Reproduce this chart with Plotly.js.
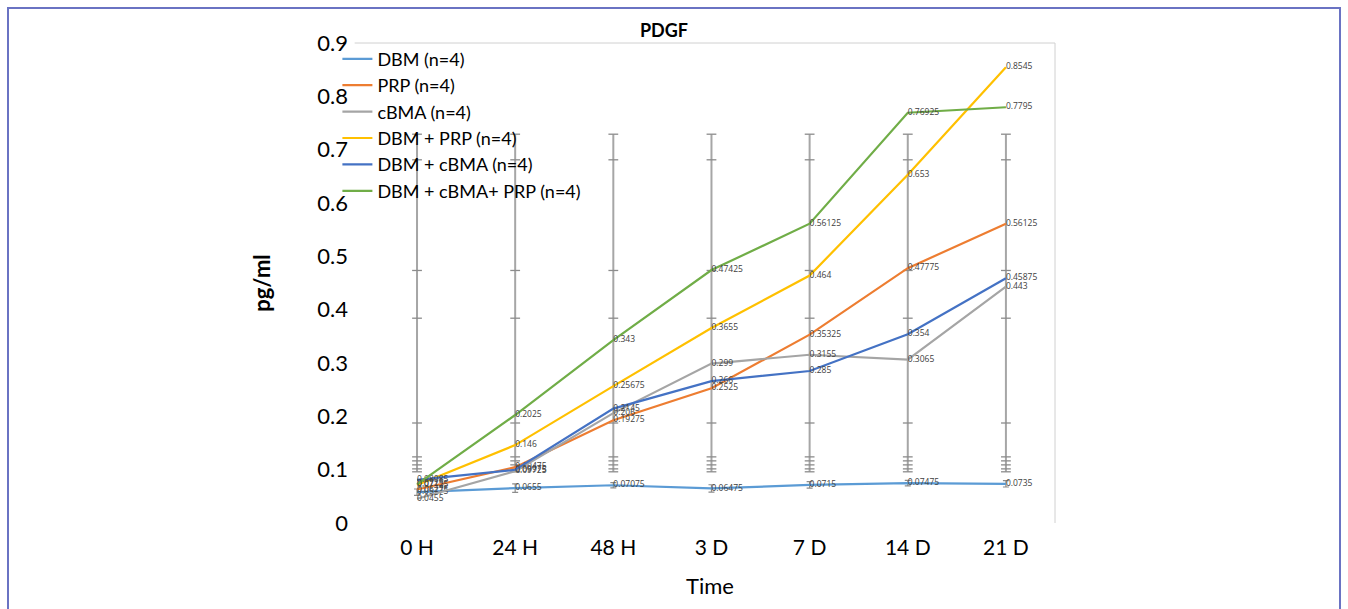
<!DOCTYPE html>
<html>
<head>
<meta charset="utf-8">
<script src="https://cdn.plot.ly/plotly-3.0.1.min.js"></script>
<style>
html,body{margin:0;padding:0;background:#fff;}
#chart{width:1348px;height:609px;}
#frame{position:absolute;left:7px;top:7px;width:1330px;height:600px;border:2px solid #6a73c3;pointer-events:none;}
</style>
</head>
<body>
<div id="chart"></div>
<div id="frame"></div>
<script>
const categories = ["0 H", "24 H", "48 H", "3 D", "7 D", "14 D", "21 D"];
const seriesNames = ["DBM (n=4)", "PRP (n=4)", "cBMA (n=4)", "DBM + PRP (n=4)", "DBM + cBMA (n=4)", "DBM + cBMA+ PRP (n=4)"];
const dbm        = [0.05775, 0.0655, 0.07075, 0.06475, 0.0715, 0.07475, 0.0735];
const prp        = [0.06275, 0.10475, 0.19275, 0.2525, 0.35325, 0.47775, 0.56125];
const cbma       = [0.0455, 0.09725, 0.206, 0.299, 0.3155, 0.3065, 0.443];
const dbmPrp     = [0.07125, 0.146, 0.25675, 0.3655, 0.464, 0.653, 0.8545];
const dbmCbma    = [0.08085, 0.09975, 0.2145, 0.266, 0.285, 0.354, 0.45875];
const dbmCbmaPrp = [0.0725, 0.2025, 0.343, 0.47425, 0.56125, 0.76925, 0.7795];
const dbmError   = [0.006, 0.008, 0.005, 0.007, 0.006, 0.005, 0.006];
// grey error-bar cap levels repeated at every time point
const capLevels  = [0.729, 0.681, 0.4735, 0.384, 0.1875, 0.124, 0.1165, 0.109, 0.1015, 0.096];

const colors = ["#5B9BD5", "#ED7D31", "#A5A5A5", "#FFC000", "#4472C4", "#70AD47"];
const allSeries = [dbm, prp, cbma, dbmPrp, dbmCbma, dbmCbmaPrp];

const traces = [];
const vx = [], vy = [];
categories.forEach(c => { vx.push(c, c, null); vy.push(Math.min(...capLevels), Math.max(...capLevels), null); });
traces.push({x: vx, y: vy, type: 'scatter', mode: 'lines', line: {color: '#a6a6a6', width: 2}, showlegend: false, hoverinfo: 'skip', connectgaps: false});
const cx = [], cy = [];
categories.forEach(c => capLevels.forEach(l => { cx.push(c); cy.push(l); }));
traces.push({x: cx, y: cy, type: 'scatter', mode: 'markers', marker: {symbol: 'line-ew-open', size: 7, color: '#8c8c8c', line: {color: '#8c8c8c', width: 1.3}}, showlegend: false, hoverinfo: 'skip'});

allSeries.forEach((s, i) => {
  const t = {
    x: categories, y: s, name: seriesNames[i], type: 'scatter', mode: 'lines+text',
    line: {color: colors[i], width: 2.2},
    text: s.map(v => String(v)), textposition: 'middle right',
    textfont: {family: 'Open Sans, sans-serif', size: 8.5, color: '#404040'},
    cliponaxis: false
  };
  if (i === 0) {
    t.error_y = {type: 'data', array: dbmError, visible: true, color: '#8c8c8c', thickness: 1.2, width: 3};
  }
  traces.push(t);
});

const layout = {
  width: 1348, height: 609,
  margin: {l: 365, r: 293, t: 43, b: 86},
  paper_bgcolor: '#ffffff', plot_bgcolor: '#ffffff',
  font: {family: 'Lato, Carlito, sans-serif', color: '#000'},
  title: {text: '<b>PDGF</b>', xref: 'container', x: 0.4926, xanchor: 'center', yref: 'container', y: 0.95, yanchor: 'middle', font: {size: 18, family: 'Lato, sans-serif', color: '#000'}},
  xaxis: {
    type: 'category', range: [-0.53, 6.5],
    showgrid: false, zeroline: false, showline: false, ticks: '',
    tickfont: {size: 21, color: '#000'}, ticklabelstandoff: 10,
    title: {text: 'Time', font: {size: 22, color: '#000'}, standoff: 20}
  },
  yaxis: {
    range: [0, 0.9], dtick: 0.1, showgrid: false, zeroline: false, showline: false, ticks: '',
    tickfont: {size: 22, color: '#000'}, ticklabelstandoff: 16,
    title: {text: '<b>pg/ml</b>', font: {size: 22, color: '#000'}, standoff: 40}
  },
  legend: {
    x: -0.04, y: 1.005, xanchor: 'left', yanchor: 'top',
    bgcolor: 'rgba(0,0,0,0)', font: {size: 18, color: '#000'},
    itemwidth: 30, tracegroupgap: 0
  },
  shapes: [
    {type: 'line', xref: 'paper', yref: 'paper', x0: -0.015, x1: 1.0, y0: 1, y1: 1, line: {color: '#d0d0d0', width: 1}},
    {type: 'line', xref: 'paper', yref: 'paper', x0: 1.0, x1: 1.0, y0: 0, y1: 1, line: {color: '#d0d0d0', width: 1}}
  ],
  showlegend: true
};

Plotly.newPlot('chart', traces, layout, {displayModeBar: false, staticPlot: true});
</script>
</body>
</html>
